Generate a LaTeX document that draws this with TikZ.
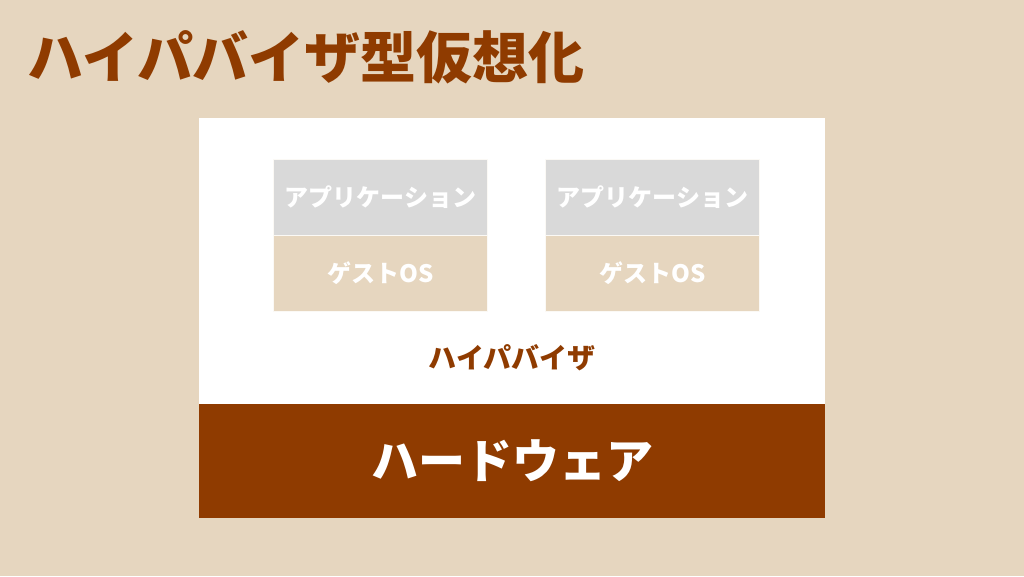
\documentclass[tikz,border=0pt]{standalone}
\usepackage{fontspec}
\newfontfamily\cjk{Noto Sans CJK JP Black}
\definecolor{bgbeige}{HTML}{E6D6BF}
\definecolor{cellgray}{HTML}{D9D9D9}
\definecolor{hwbrown}{HTML}{8F3B00}
\tikzset{
  cell/.style={draw=white!85!bgbeige, line width=0.8pt, minimum width=214pt, minimum height=76pt, inner sep=0pt, text=white, font=\cjk\fontsize{24}{24}\selectfont},
}
\begin{document}
\begin{tikzpicture}[x=1pt,y=-1pt]
\fill[bgbeige] (0,0) rectangle (1024,576);
\useasboundingbox (0,0) rectangle (1024,576);
\node[anchor=west, text=hwbrown, font=\cjk\fontsize{56}{56}\selectfont, inner sep=0pt] (title) at (27,57) {ハイパバイザ型仮想化};
\node[fill=white, minimum width=626pt, minimum height=400pt, inner sep=0pt, anchor=north west] (host) at (199,118) {};
\node[fill=hwbrown, minimum width=626pt, minimum height=114pt, inner sep=0pt, anchor=north west, text=white, font=\cjk\fontsize{47}{47}\selectfont] (hw) at (199,404) {ハードウェア};
\node[cell, fill=cellgray, anchor=north west] (app1) at (273,159) {アプリケーション};
\node[cell, fill=bgbeige, anchor=north west] (os1) at (273,235) {ゲストOS};
\node[cell, fill=cellgray, anchor=north west] (app2) at (545,159) {アプリケーション};
\node[cell, fill=bgbeige, anchor=north west] (os2) at (545,235) {ゲストOS};
\node[text=hwbrown, font=\cjk\fontsize{28}{28}\selectfont, inner sep=0pt] (hv) at (512,358) {ハイパバイザ};
\end{tikzpicture}
\end{document}
